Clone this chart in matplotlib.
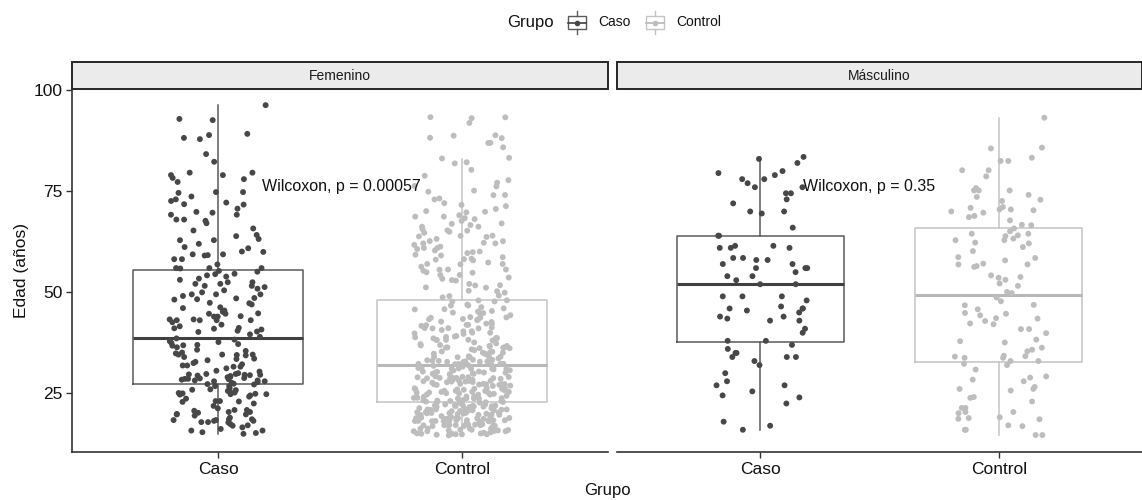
import numpy as np
import matplotlib
matplotlib.use("Agg")
import matplotlib.pyplot as plt
from matplotlib.patches import Rectangle
from matplotlib.lines import Line2D

plt.rcParams['font.family'] = ['Liberation Sans', 'DejaVu Sans']

# data (ages in years)
panels = ['Femenino', 'Másculino']
groups = ['Caso', 'Control']
p_labels = ['Wilcoxon, p = 0.00057', 'Wilcoxon, p = 0.35']

fem_caso = [
    96.3, 92.9, 92.6, 89.2, 88.9, 87.9, 88.2, 84.2, 82.3, 79.0,
    79.6, 79.0, 79.6, 78.0, 78.3, 77.3, 74.8, 74.8, 73.7, 74.6,
    73.0, 72.6, 72.2, 71.8, 71.7, 70.7, 69.9, 68.0, 69.2, 69.7,
    69.2, 68.0, 67.1, 65.8, 67.7, 65.3, 62.9, 63.2, 62.9, 63.9,
    64.2, 61.2, 62.0, 60.9, 60.1, 59.1, 59.2, 59.4, 58.2, 59.4,
    60.0, 58.2, 56.9, 56.0, 56.0, 56.0,
    55.9, 55.1, 54.6, 54.5, 53.4, 53.9, 52.1, 51.6, 52.5, 52.1,
    52.5, 51.3, 51.6, 50.0, 50.9, 49.5, 48.3, 49.5, 49.5, 48.5,
    48.6, 49.1, 48.2, 47.4, 46.1, 47.3, 46.3, 45.5, 44.7, 44.0,
    44.1, 44.8, 44.7, 43.3, 43.1, 42.0, 44.0, 43.3, 43.1, 43.1,
    43.1, 41.2, 41.0, 40.3, 41.6, 40.8, 40.2, 41.1, 40.5,
    39.6, 42.6, 45.2, 47.0, 50.5, 53.1, 54.2, 55.3,
    39.0, 38.3, 37.7, 37.0, 37.5, 36.8, 37.2, 36.9, 34.9, 34.6,
    34.6, 35.1, 34.5, 33.6, 31.9, 35.5, 34.4, 34.6, 32.5, 31.6,
    32.2, 33.5, 31.9, 31.6, 29.3, 28.4, 29.6, 29.6, 29.4, 28.2,
    29.8, 29.1, 28.7, 29.8, 28.6, 27.2, 27.8, 28.2, 28.6, 28.8,
    28.0, 29.5, 30.0, 29.7, 28.0,
    38.6, 37.9, 36.4, 35.8, 34.0, 33.2, 32.8, 31.2, 30.6, 30.4,
    29.0, 28.5, 27.6, 27.4,
    26.8, 25.0, 24.7, 25.9, 25.5, 25.8, 25.2, 27.3, 26.0, 24.5,
    23.1, 22.5, 24.8, 26.8, 23.7, 24.8, 23.0, 21.9, 20.2, 25.1,
    24.9, 23.1, 20.9, 20.4, 19.8, 19.8, 18.6, 20.4, 20.9, 19.0,
    17.9, 20.7, 18.6, 18.2, 18.4, 19.9, 18.4, 17.9, 18.2, 17.0,
    17.1, 17.8, 15.8, 15.2, 15.8, 16.6, 15.0, 15.4,
    26.3, 25.6, 24.2, 22.9, 21.3, 19.5, 17.4, 16.2,
]

# Femenino / Control is too dense to read point by point: age -> count
fem_control_age = list(range(15, 94))
fem_control_n = [
    11, 13, 14, 14, 14, 14, 13, 13,              # 15-22
    12, 12, 12, 12, 12, 12, 12, 10, 10,          # 23-31
    10, 10, 8, 8, 8, 7, 7, 7, 6, 6, 6, 6, 5, 5, 4, 3,   # 32-47
    4, 3, 3, 2, 3, 3, 3, 3,                      # 48-55
    4, 4, 4, 3, 4, 4, 4, 3, 4, 4, 3, 3, 3, 3,    # 56-69
    3, 2, 2, 2, 2, 2, 2, 1, 1, 1, 1, 0, 2,       # 70-82
    2, 0, 0, 1, 2, 2, 2, 0, 0, 1, 3,             # 83-93
]

masc_caso = [
    83.5, 83.0, 82.0, 80.0, 79.5, 79.0, 78.0, 78.0, 77.0, 76.0,
    76.0, 74.5, 74.5, 73.0, 72.0, 70.0, 70.0, 69.5, 66.0, 64.0,
    64.0, 61.0, 61.5, 61.5, 61.0, 61.0, 58.0, 58.5, 58.5, 58.0,
    57.0, 56.0, 56.0, 56.0, 57.0, 55.0, 54.0, 54.0, 53.0, 52.0,
    52.0, 49.0, 48.0, 49.0, 49.0, 46.0, 45.5, 46.0, 45.0, 44.0,
    46.0, 46.5, 44.0, 43.5, 43.0, 43.0, 41.0, 40.0, 38.0, 38.0,
    36.0, 37.0, 34.0, 33.0, 35.0, 34.0, 35.0, 34.0, 32.0, 30.0,
    28.0, 27.0, 27.0, 25.5, 24.5, 24.0, 22.5, 18.0, 17.0, 16.0,
]

masc_control = [
    93.2, 85.8, 85.6, 83.3, 82.5, 82.5, 80.2, 80.2, 78.7, 75.8,
    75.2, 75.2, 75.2, 74.1, 73.6, 72.6, 72.9, 71.1, 70.3, 70.5,
    70.5, 70.9, 70.0, 69.7, 68.9, 68.6, 67.8, 66.7, 66.6, 65.8,
    64.5, 65.1, 64.5, 64.1, 63.9, 62.9, 62.9, 62.1, 61.2, 63.3,
    62.3, 60.2, 57.9, 58.5, 58.7, 56.9, 56.9, 57.1, 56.3, 56.5,
    54.2, 53.1, 53.6, 53.8,
    52.2, 51.6, 50.1, 49.8, 48.7, 47.8, 46.9, 46.8, 45.8, 44.7,
    44.9, 43.6, 43.5, 44.3, 42.9, 42.3, 42.1, 40.9, 40.9, 39.9,
    37.6, 38.3, 37.9, 35.8, 36.3, 35.4, 34.1, 34.3, 33.8, 34.2,
    33.8, 32.3, 33.0, 33.0, 32.0, 30.9, 29.2, 28.9, 28.4, 28.0,
    26.6, 26.1, 26.1, 25.7, 24.1, 23.0, 23.9, 21.4, 20.4, 20.4,
    21.4, 20.1, 18.9, 18.6, 19.1, 18.7, 16.9, 17.1, 16.0, 16.0,
    14.7, 14.7,
]

fem_control = np.repeat(fem_control_age, fem_control_n)
panel_data = [[np.array(fem_caso), fem_control],
              [np.array(masc_caso), np.array(masc_control)]]
# integer ages get the small vertical jitter ggplot adds (+-0.4)
integer_ages = [[False, True], [False, False]]

# styles
pt_col = ['#474747', '#bdbdbd']
box_col = ['#5a5a5a', '#c4c4c4']
med_col = ['#404040', '#b8b8b8']

W, H = 1142, 500
fig = plt.figure(figsize=(W / 100, H / 100), dpi=100)


def fx(px):
    return px / W


def fy(py):
    return 1 - py / H


def scatter_offsets(n, seed):
    # deterministic hash-style offsets in [-0.5, 0.5) for the jitter
    k = np.arange(1, n + 1) + seed * 1000.0
    v = np.sin(k * 12.9898 + seed * 78.233) * 43758.5453
    return v - np.floor(v) - 0.5


panel_px = [(72, 608), (617, 1142)]
top_px, bot_px = 89, 452

for i, (x0, x1) in enumerate(panel_px):
    ax = fig.add_axes([fx(x0), fy(bot_px), fx(x1) - fx(x0), (bot_px - top_px) / H])
    for j, vals in enumerate(panel_data[i]):
        pos = j + 1
        ax.boxplot(vals, positions=[pos], widths=0.7, whis=1.5,
                   showcaps=False, showfliers=False, manage_ticks=False,
                   boxprops=dict(color=box_col[j], linewidth=1.1),
                   whiskerprops=dict(color=box_col[j], linewidth=1.1),
                   medianprops=dict(color=med_col[j], linewidth=2.2),
                   zorder=2)
        xs = pos + 0.4 * scatter_offsets(len(vals), 2 * i + j + 1)
        ys = vals.astype(float)
        if integer_ages[i][j]:
            ys = ys + 0.8 * scatter_offsets(len(vals), 7)
        ax.scatter(xs, ys, s=18, color=pt_col[j], edgecolors='none', zorder=3)

    ax.text(1.18, 76.3, p_labels[i], fontsize=11.5, ha='left', va='center',
            color='#111111', zorder=4)

    ax.set_xlim(0.4, 2.6)
    ax.set_ylim(10.5, 100.3)
    ax.set_xticks([1, 2])
    ax.set_xticklabels(groups, fontsize=12.5, color='#111111')
    ax.tick_params(axis='x', length=4, width=1, color='#333333', pad=3)
    for s in ['top', 'right']:
        ax.spines[s].set_visible(False)
    ax.spines['bottom'].set_color('#333333')
    ax.spines['bottom'].set_linewidth(1.2)
    if i == 0:
        ax.set_yticks([25, 50, 75, 100])
        ax.tick_params(axis='y', length=4, width=1, color='#333333', pad=3,
                       labelsize=12.5, labelcolor='#111111')
        ax.spines['left'].set_color('#333333')
        ax.spines['left'].set_linewidth(1.2)
    else:
        ax.set_yticks([])
        ax.spines['left'].set_visible(False)

    # facet strip
    strip = Rectangle((fx(x0), fy(89)), fx(x1) - fx(x0), 27 / H,
                      transform=fig.transFigure, facecolor='#ebebeb',
                      edgecolor='#262626', linewidth=1.4, clip_on=False)
    fig.add_artist(strip)
    fig.text(fx((x0 + x1) / 2), fy(75.5), panels[i], fontsize=10,
             ha='center', va='center', color='#1a1a1a')

# axis titles
fig.text(fx(22), fy(271), 'Edad (años)', rotation=90, fontsize=12.5,
         ha='center', va='center', color='#111111')
fig.text(fx(607), fy(490), 'Grupo', fontsize=12, ha='center', va='center',
         color='#111111')

# legend at the top
fig.text(fx(507), fy(22), 'Grupo', fontsize=12, ha='left', va='center',
         color='#111111')
key_x = [577, 655]
lab_x = [598, 676]
for j in range(2):
    cx = key_x[j]
    fig.add_artist(Rectangle((fx(cx - 9), fy(29)), 18 / W, 13 / H,
                             transform=fig.transFigure, facecolor='white',
                             edgecolor=box_col[j], linewidth=1.0))
    for ya, yb in [(11, 16), (29, 34)]:
        fig.add_artist(Line2D([fx(cx), fx(cx)], [fy(ya), fy(yb)],
                              transform=fig.transFigure, color=box_col[j], lw=1.0))
    fig.add_artist(Line2D([fx(cx - 9), fx(cx + 9)], [fy(22.5), fy(22.5)],
                          transform=fig.transFigure, color=med_col[j], lw=1.2))
    fig.add_artist(Line2D([fx(cx)], [fy(22.5)], transform=fig.transFigure,
                          marker='o', markersize=3, color=pt_col[j], lw=0))
    fig.text(fx(lab_x[j]), fy(22), groups[j], fontsize=10, ha='left',
             va='center', color='#111111')

fig.savefig('out.png', dpi=100, facecolor='white')
